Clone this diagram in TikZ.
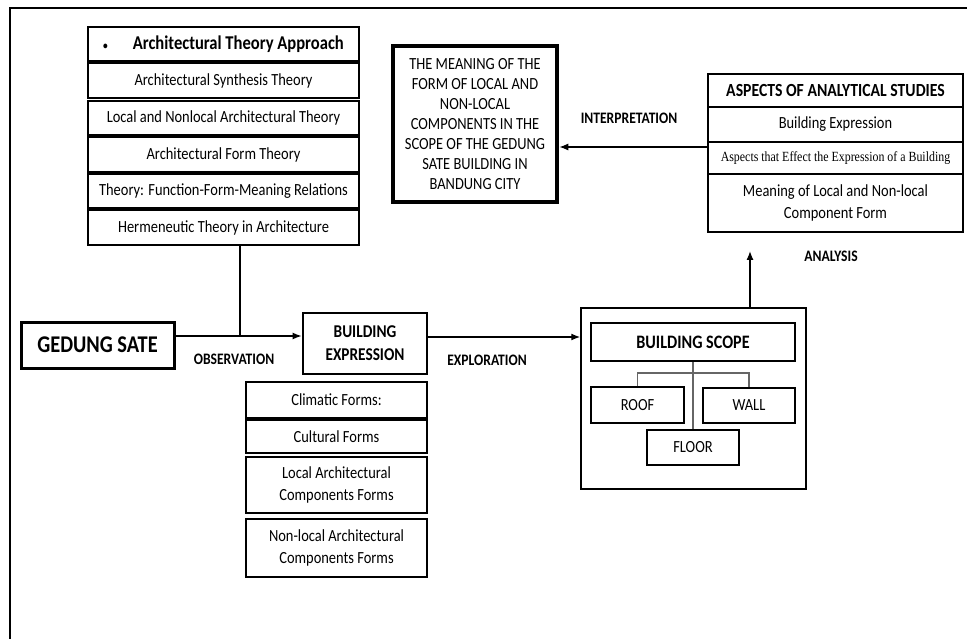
\documentclass[tikz,border=0pt]{standalone}
\usepackage{fontspec}
\setmainfont{Carlito}[FakeStretch=0.85]
\newfontfamily\fuenteserif{Liberation Serif}[FakeStretch=0.85]
\usetikzlibrary{arrows.meta}
\tikzset{
  fila/.style={draw, line width=1.2pt, inner sep=0pt, align=center,
    font=\fontsize{17}{22}\selectfont},
  filagruesa/.style={fila, line width=2.8pt,
    font=\bfseries\fontsize{18.5}{22}\selectfont},
  rotulo/.style={font=\bfseries\fontsize{16}{18}\selectfont},
  flecha/.style={-{Latex[length=9pt,width=7pt]}, line width=1.3pt},
  enlace/.style={line width=1.2pt},
}
\begin{document}
\begin{tikzpicture}[x=1pt, y=-1pt]
  \useasboundingbox (0,0) rectangle (967,639);
  % Marco
  \draw[line width=2.5pt] (10,639) -- (10,8) -- (967,8);

  % Enfoque teorico
  \node[filagruesa, minimum width=271, minimum height=34,
    font=\bfseries\fontsize{19.5}{22}\selectfont] (teo1) at (223.5,44)
    {{\fontsize{11}{11}\selectfont\textbullet}\hspace{25pt}Architectural Theory Approach};
  \node[fila, minimum width=271, minimum height=35] (teo2) at (223.5,80.5) {Architectural Synthesis Theory};
  \node[fila, minimum width=271, minimum height=34] (teo3) at (223.5,118) {Local and Nonlocal Architectural Theory};
  \node[fila, minimum width=271, minimum height=35] (teo4) at (223.5,154.5) {Architectural Form Theory};
  \node[fila, minimum width=271, minimum height=34] (teo5) at (223.5,191) {Theory: Function-Form-Meaning Relations};
  \node[fila, minimum width=271, minimum height=35] (teo6) at (223.5,227.5) {Hermeneutic Theory in Architecture};

  % Objeto y expresion
  \node[fila, line width=3pt, minimum width=153, minimum height=46,
    font=\bfseries\fontsize{24}{26}\selectfont] (gedung) at (97.5,345) {GEDUNG SATE};
  \node[filagruesa, minimum width=124, minimum height=61,
    font=\bfseries\fontsize{18}{23}\selectfont] (expr) at (365,343.5) {BUILDING\\EXPRESSION};
  \node[fila, minimum width=181, minimum height=36] (form1) at (336.5,400) {Climatic Forms:};
  \node[fila, minimum width=181, minimum height=33] (form2) at (336.5,436.5) {Cultural Forms};
  \node[fila, minimum width=181, minimum height=56] (form3) at (336.5,485) {Local Architectural\\Components Forms};
  \node[fila, minimum width=181, minimum height=58] (form4) at (336.5,548) {Non-local Architectural\\Components Forms};

  % Alcance del edificio
  \node[fila, line width=1.5pt, minimum width=225, minimum height=181] (alcance) at (693.5,398.5) {};
  \node[filagruesa, minimum width=204, minimum height=38,
    font=\bfseries\fontsize{19}{22}\selectfont] (scope) at (693,342) {BUILDING SCOPE};
  \node[fila, minimum width=93, minimum height=36] (roof) at (637.5,405) {ROOF};
  \node[fila, minimum width=92, minimum height=35] (wall) at (749,405.5) {WALL};
  \node[fila, minimum width=92, minimum height=35] (floor) at (693,447.5) {FLOOR};

  % Aspectos de analisis
  \node[filagruesa, minimum width=255, minimum height=33] (asp1) at (835.5,90.5) {ASPECTS OF ANALYTICAL STUDIES};
  \node[fila, minimum width=255, minimum height=35] (asp2) at (835.5,124.5) {Building Expression};
  \node[fila, minimum width=255, minimum height=32,
    font=\fuenteserif\fontsize{14}{16}\selectfont] (asp3) at (835.5,158) {Aspects that Effect the Expression of a Building};
  \node[fila, minimum width=255, minimum height=58] (asp4) at (835.5,203) {Meaning of Local and Non-local\\Component Form};

  % Resultado
  \node[fila, line width=4.5pt, minimum width=164, minimum height=156,
    font=\fontsize{17}{20}\selectfont] (sentido) at (475,124)
    {THE MEANING OF THE\\FORM OF LOCAL AND\\NON-LOCAL\\COMPONENTS IN THE\\SCOPE OF THE GEDUNG\\SATE BUILDING IN\\BANDUNG CITY};

  % Conectores
  \coordinate (union) at (240,336);
  \coordinate (ramal) at (693,373);
  \coordinate (analisis) at (750,251);
  \coordinate (interp) at (708,147);
  \coordinate (explor) at (427,337);
  \draw[enlace] (teo6.south -| union) -- (union);
  \draw[flecha] (gedung.east |- union) -- (expr.west |- union);
  \draw[flecha] (explor) -- (alcance.west |- explor);
  \draw[flecha] (alcance.north -| analisis) -- (analisis);
  \draw[flecha] (interp) -- (sentido.east |- interp);
  \draw[enlace, gray!80!black] (scope.south) -- (floor.north);
  \draw[enlace, gray!80!black] (roof.north) -- (roof.north |- ramal) -- (wall.north |- ramal) -- (wall.north);

  % Etiquetas
  \node[rotulo] (obs) at (234,359) {OBSERVATION};
  \node[rotulo] (exp) at (487,360) {EXPLORATION};
  \node[rotulo] (ana) at (831,256) {ANALYSIS};
  \node[rotulo] (int) at (629,118) {INTERPRETATION};
\end{tikzpicture}
\end{document}
